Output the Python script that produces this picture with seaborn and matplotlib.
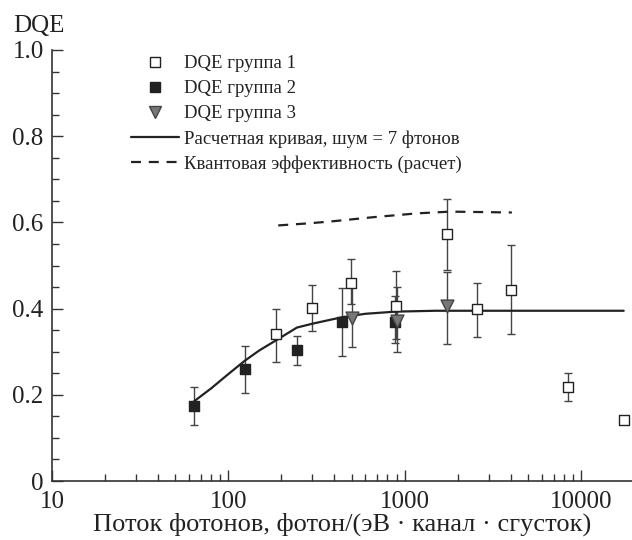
import numpy as np
import pandas as pd
import matplotlib
matplotlib.use("Agg")
import matplotlib.pyplot as plt
from matplotlib.ticker import MultipleLocator, FixedLocator, NullFormatter, FuncFormatter
from matplotlib.lines import Line2D
import seaborn as sns

# DQE group 1 (open squares)
g1_x = [186, 299, 497, 893, 1740, 2570, 4020, 8500, 17500]
g1_y = [0.34, 0.402, 0.46, 0.407, 0.572, 0.40, 0.444, 0.219, 0.142]
g1_lo = [0.277, 0.349, 0.411, 0.33, 0.49, 0.335, 0.34, 0.186, 0.135]
g1_hi = [0.398, 0.454, 0.514, 0.488, 0.655, 0.46, 0.547, 0.25, 0.15]

# DQE group 2 (filled squares)
g2_x = [64, 124, 245, 442, 880]
g2_y = [0.174, 0.26, 0.305, 0.37, 0.37]
g2_lo = [0.130, 0.205, 0.27, 0.289, 0.32]
g2_hi = [0.219, 0.314, 0.337, 0.447, 0.43]

# DQE group 3 (grey triangles)
g3_x = [500, 900, 1740]
g3_y = [0.378, 0.372, 0.405]
g3_lo = [0.311, 0.30, 0.319]
g3_hi = [0.45, 0.45, 0.485]

# Calculated curve, noise = 7 photons
calc_x = [64, 80, 100, 124, 150, 186, 245, 300, 442, 600, 893, 1500, 17500]
calc_y = [0.185, 0.215, 0.248, 0.279, 0.303, 0.326, 0.356, 0.365, 0.38, 0.388, 0.393, 0.395, 0.395]

# Quantum efficiency (calculated)
qe_x = [192, 290, 400, 660, 1180, 1810, 4060]
qe_y = [0.593, 0.598, 0.603, 0.612, 0.621, 0.625, 0.623]

labels = ["DQE группа 1", "DQE группа 2", "DQE группа 3",
          "Расчетная кривая, шум = 7 фтонов", "Квантовая эффективность (расчет)"]

sns.set_theme(style="ticks")
plt.rcParams["font.family"] = ["Liberation Serif", "DejaVu Serif"]

fig = plt.figure(figsize=(6.32, 5.40), dpi=100)
ax = fig.add_axes([52 / 632, 1 - 481 / 540, 1 - 52 / 632, 431 / 540])

ink = "#222222"
bar_col = "#444444"

calc_df = pd.DataFrame({"x": calc_x, "y": calc_y})
qe_df = pd.DataFrame({"x": qe_x, "y": qe_y})
sns.lineplot(data=calc_df, x="x", y="y", ax=ax, color=ink, lw=1.6, zorder=2)
sns.lineplot(data=qe_df, x="x", y="y", ax=ax, color=ink, lw=1.6,
             linestyle=(0, (4.5, 3.5)), zorder=2)

def bars(xs, ys, lo, hi):
    ys = np.array(ys); lo = np.array(lo); hi = np.array(hi)
    ax.errorbar(xs, ys, yerr=[ys - lo, hi - ys], fmt="none", ecolor=bar_col,
                elinewidth=1.0, capsize=3, capthick=1.0, zorder=1)

bars(g1_x, g1_y, g1_lo, g1_hi)
bars(g2_x, g2_y, g2_lo, g2_hi)
bars(g3_x, g3_y, g3_lo, g3_hi)

df1 = pd.DataFrame({"x": g1_x, "y": g1_y})
df2 = pd.DataFrame({"x": g2_x, "y": g2_y})
df3 = pd.DataFrame({"x": g3_x, "y": g3_y})
sns.scatterplot(data=df1, x="x", y="y", ax=ax, marker="s", s=48,
                facecolor="white", edgecolor=ink, linewidth=1.0, zorder=3)
sns.scatterplot(data=df2, x="x", y="y", ax=ax, marker="s", s=48,
                color=ink, edgecolor=ink, linewidth=1.0, zorder=3)
sns.scatterplot(data=df3, x="x", y="y", ax=ax, marker="v", s=85,
                color="#777777", edgecolor="#444444", linewidth=1.0, zorder=4)

ax.set_xscale("log")
ax.set_xlim(10, 19500)
ax.set_ylim(0, 1.0)
ax.set_xlabel("Поток фотонов, фотон/(эВ · канал · сгусток)", fontsize=19,
              labelpad=0, color="#222222")
ax.set_ylabel("")

ax.xaxis.set_major_locator(FixedLocator([10, 100, 1000, 10000]))
ax.xaxis.set_minor_locator(FixedLocator(
    [m * d for d in (10, 100, 1000, 10000) for m in range(2, 10)]))
ax.xaxis.set_minor_formatter(NullFormatter())
ax.xaxis.set_major_formatter(FuncFormatter(lambda v, p: f"{int(round(v))}"))
ax.yaxis.set_major_locator(MultipleLocator(0.2))
ax.yaxis.set_minor_locator(MultipleLocator(0.05))
ax.yaxis.set_major_formatter(FuncFormatter(lambda v, p: "0" if abs(v) < 1e-9 else f"{v:.1f}"))

ax.tick_params(which="both", direction="in", colors="#333333", labelcolor="#222222",
               labelsize=18, width=1.0)
ax.tick_params(which="major", length=8)
ax.tick_params(which="minor", length=5)
ax.tick_params(axis="y", which="major", pad=6)
ax.tick_params(axis="x", which="major", pad=7)

for side in ("top", "right"):
    ax.spines[side].set_visible(False)
for side in ("left", "bottom"):
    ax.spines[side].set_color("#333333")
    ax.spines[side].set_linewidth(1.2)

fig.text(13 / 632, 1 - 26 / 540, "DQE", fontsize=18, color="#222222", va="center", ha="left")

handles = [
    Line2D([], [], ls="none", marker="s", ms=6.5, mfc="white", mec=ink, mew=1.0),
    Line2D([], [], ls="none", marker="s", ms=6.5, mfc=ink, mec=ink, mew=1.0),
    Line2D([], [], ls="none", marker="v", ms=8.5, mfc="#777777", mec="#444444", mew=1.0),
    Line2D([], [], color=ink, lw=1.6),
    Line2D([], [], color=ink, lw=1.6, ls=(0, (4.5, 3.5))),
]
leg = ax.legend(handles, labels, loc="upper left",
                bbox_to_anchor=(131 / 632, 1 - 55 / 540), bbox_transform=fig.transFigure,
                frameon=False, fontsize=13.5, handlelength=2.55, handletextpad=0.27,
                labelspacing=0.42, borderaxespad=0.0, borderpad=0.0)
for t in leg.get_texts():
    t.set_color("#222222")

fig.savefig("out.png", dpi=100)
